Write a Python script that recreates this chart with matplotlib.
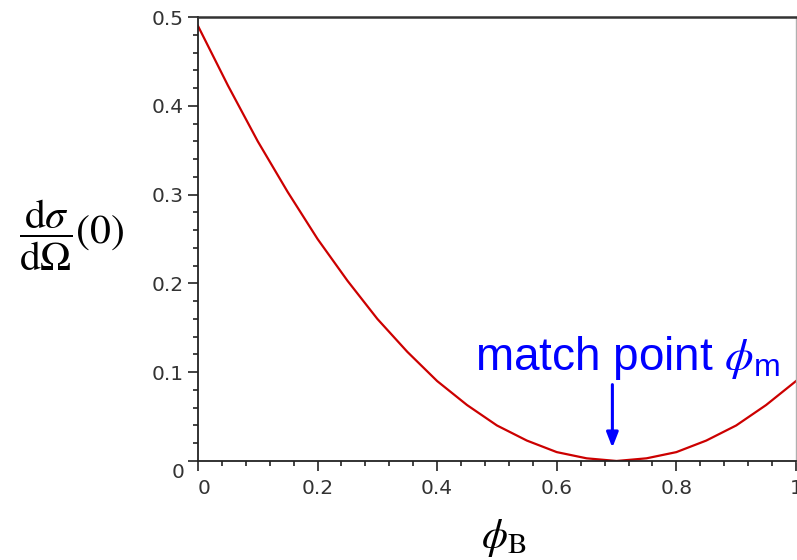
import matplotlib
matplotlib.use("Agg")
import matplotlib.pyplot as plt
from matplotlib.ticker import MultipleLocator

# Forward cross section vs. mixing parameter phi_B
phi_b = [0.00, 0.05, 0.10, 0.15, 0.20, 0.25, 0.30, 0.35, 0.40, 0.45, 0.50,
         0.55, 0.60, 0.65, 0.70, 0.75, 0.80, 0.85, 0.90, 0.95, 1.00]
dsigma = [0.490, 0.423, 0.360, 0.303, 0.250, 0.203, 0.160, 0.123, 0.090, 0.063, 0.040,
          0.023, 0.010, 0.003, 0.000, 0.003, 0.010, 0.023, 0.040, 0.063, 0.090]

# arrow marking the match point
match_x = 0.693
arrow_tip = 0.015
arrow_tail = 0.086

y_ticks = [0, 0.1, 0.2, 0.3, 0.4, 0.5]
y_ticklabels = ["", "0.1", "0.2", "0.3", "0.4", "0.5"]
x_ticks = [0, 0.2, 0.4, 0.6, 0.8, 1.0]
x_ticklabels = ["0", "0.2", "0.4", "0.6", "0.8", "1"]

# sans upright subscript with a serif italic phi for the annotation
plt.rcParams["mathtext.rm"] = "Liberation Sans"
plt.rcParams["mathtext.it"] = "STIXGeneral:italic"
plt.rcParams["mathtext.sf"] = "Liberation Sans"

fig = plt.figure(figsize=(7.97, 5.6), dpi=100)
ax = fig.add_axes([0.2484, 0.1768, 0.7503, 0.7928])

ax.plot(phi_b, dsigma, color="#cc0000", lw=1.6)
ax.set_xlim(0, 1)
ax.set_ylim(0, 0.5)

ax.set_xticks(x_ticks)
ax.set_xticklabels(x_ticklabels)
ax.set_yticks(y_ticks)
ax.set_yticklabels(y_ticklabels)
ax.xaxis.set_minor_locator(MultipleLocator(0.04))
ax.yaxis.set_minor_locator(MultipleLocator(0.02))
ax.tick_params(which="both", direction="out", color="#222222", width=1.2,
               labelsize=14.5, labelcolor="#333333")
ax.tick_params(which="major", length=7)
ax.tick_params(which="minor", length=3.5)
ax.tick_params(axis="x", which="major", pad=6)
ax.tick_params(axis="y", which="major", pad=3)
ax.get_xticklabels()[0].set_horizontalalignment("left")

for side in ["left", "bottom"]:
    ax.spines[side].set_color("#222222")
    ax.spines[side].set_linewidth(1.3)
ax.spines["top"].set_color("#333333")
ax.spines["top"].set_linewidth(1.8)
ax.spines["right"].set_color("#b0b0b0")
ax.spines["right"].set_linewidth(1.0)

# zero label on the y axis sits a bit below the axis
ax.annotate("0", xy=(0, 0), xycoords="axes fraction", xytext=(-9.5, -8.5),
            textcoords="offset points", ha="right", va="center",
            fontsize=14.5, color="#333333")

# axis titles
fig.text(0.0895, 0.58, r"$\dfrac{\mathrm{d}\sigma}{\mathrm{d}\Omega}(0)$",
         fontsize=30, ha="center", va="center", math_fontfamily="stix")
fig.text(0.632, 0.04, r"$\phi_\mathrm{B}$", fontsize=30,
         ha="center", va="center", math_fontfamily="stix")

# match point annotation
ax.annotate("", xy=(match_x, arrow_tip), xytext=(match_x, arrow_tail),
            arrowprops=dict(arrowstyle="-|>,head_length=0.9,head_width=0.35",
                            color="#0000ff", lw=2.2, shrinkA=0, shrinkB=0))
ax.text(0.463, 0.1025, r"match point $\phi_\mathrm{m}$",
        fontsize=33, color="#0000ff", ha="left", va="baseline",
        family="Liberation Sans", math_fontfamily="custom")

fig.savefig("out.png", dpi=100)
